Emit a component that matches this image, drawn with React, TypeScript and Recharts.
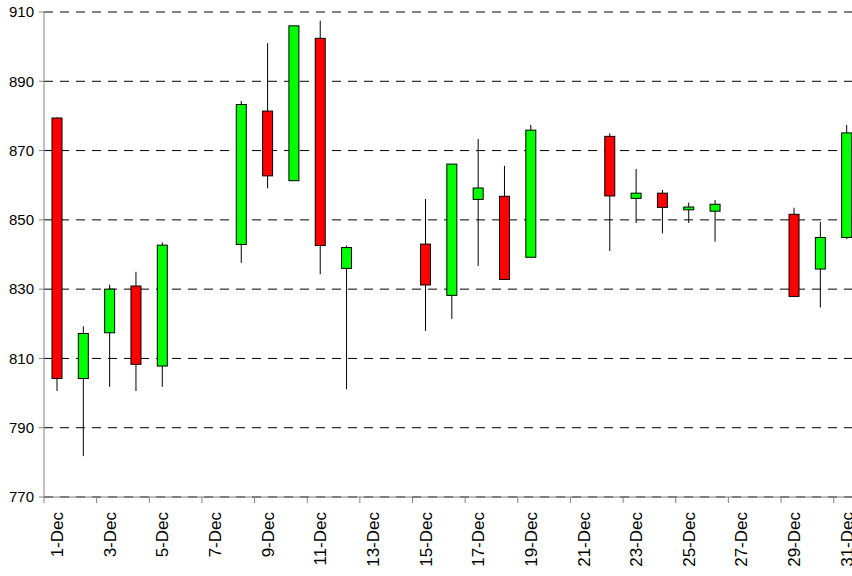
import { ComposedChart, Bar, XAxis, YAxis, CartesianGrid } from "recharts";

const days = [
  "1-Dec", "2-Dec", "3-Dec", "4-Dec", "5-Dec", "6-Dec", "7-Dec", "8-Dec", "9-Dec", "10-Dec",
  "11-Dec", "12-Dec", "13-Dec", "14-Dec", "15-Dec", "16-Dec", "17-Dec", "18-Dec", "19-Dec", "20-Dec",
  "21-Dec", "22-Dec", "23-Dec", "24-Dec", "25-Dec", "26-Dec", "27-Dec", "28-Dec", "29-Dec", "30-Dec",
  "31-Dec",
];

// null = no trading that day
const open = [
  879.4, 804.2, 817.4, 830.9, 807.8, null, null, 842.9, 881.4, 861.3,
  902.4, 836.0, null, null, 843.0, 828.2, 855.9, 856.8, 839.2, null,
  null, 874.1, 856.2, 857.7, 852.9, 852.5, null, null, 851.6, 835.8,
  844.9,
];
const high = [
  879.6, 819.3, 831.3, 835.0, 843.5, null, null, 884.3, 901.0, 906.0,
  907.5, 842.6, null, null, 856.0, 866.1, 873.3, 865.6, 877.4, null,
  null, 875.0, 864.7, 858.6, 855.0, 855.7, null, null, 853.5, 849.4,
  877.4,
];
const low = [
  800.6, 781.8, 801.8, 800.6, 801.8, null, null, 837.6, 859.1, 861.3,
  834.3, 801.1, null, null, 817.9, 821.4, 836.7, 832.8, 839.2, null,
  null, 841.0, 849.1, 846.1, 849.1, 843.7, null, null, 827.9, 824.7,
  844.5,
];
const close = [
  804.2, 817.2, 830.0, 808.3, 842.7, null, null, 883.3, 862.7, 906.0,
  842.6, 842.0, null, null, 831.2, 866.1, 859.2, 832.8, 875.9, null,
  null, 856.9, 857.7, 853.6, 853.7, 854.5, null, null, 827.9, 844.9,
  875.1,
];

const yTicks = [770, 790, 810, 830, 850, 870, 890, 910];

const data = days.map((day, i) => ({
  day,
  open: open[i],
  high: high[i],
  low: low[i],
  close: close[i],
}));

const CHART_W = 860;
const CHART_H = 576;
const Y_AXIS_W = 44;
const BAND = (CHART_W - Y_AXIS_W) / days.length;

function Candle(props: any) {
  const { x, y, width, height, payload } = props;
  if (!payload || payload.open == null) return <g />;
  const top = Math.min(y, y + height);
  const h = Math.abs(height);
  const { open: o, high: hi, low: lo, close: c } = payload;
  const toY = (v: number) => top + ((hi - v) / (hi - lo)) * h;
  const cx = x + width / 2;
  const bodyTop = toY(Math.max(o, c));
  const bodyBot = toY(Math.min(o, c));
  const up = c >= o;
  return (
    <g>
      <line x1={cx} x2={cx} y1={top} y2={top + h} stroke="#000" strokeWidth={1} />
      <rect
        x={x}
        y={bodyTop}
        width={width}
        height={Math.max(bodyBot - bodyTop, 1)}
        fill={up ? "#00FF00" : "#FF0000"}
        stroke="#000"
        strokeWidth={1}
      />
    </g>
  );
}

function DayTick(props: any) {
  const { x, y, payload } = props;
  const edge = x - BAND / 2;
  return (
    <g>
      <line x1={edge} x2={edge} y1={y} y2={y + 6} stroke="#808080" strokeWidth={1} />
      <text
        x={x}
        y={y + 15}
        transform={`rotate(-90 ${x} ${y + 15})`}
        textAnchor="end"
        dy="0.35em"
        fontSize={17}
        fill="#000"
      >
        {payload.value}
      </text>
    </g>
  );
}

export default function App() {
  return (
    <div
      style={{
        position: "absolute",
        left: 0,
        top: 0,
        width: 852,
        height: 576,
        overflow: "hidden",
        background: "#fff",
        fontFamily: "Arial, 'Liberation Sans', sans-serif",
      }}
    >
      <ComposedChart
        width={CHART_W}
        height={CHART_H}
        data={data}
        margin={{ top: 12, right: 0, left: 0, bottom: 0 }}
      >
        <CartesianGrid
          horizontal
          vertical={false}
          stroke="#000"
          strokeDasharray="9 7"
        />
        <XAxis
          dataKey="day"
          interval={1}
          height={79}
          tickLine={false}
          tickSize={0}
          tickMargin={0}
          stroke="#808080"
          tick={<DayTick />}
        />
        <YAxis
          width={Y_AXIS_W}
          domain={[770, 910]}
          ticks={yTicks}
          interval={0}
          stroke="#808080"
          tickSize={5}
          tickMargin={5}
          tick={{ fill: "#000", fontSize: 15 }}
        />
        <Bar
          dataKey={(d: any) => (d.open == null ? null : [d.low, d.high])}
          barSize={10}
          shape={<Candle />}
          isAnimationActive={false}
        />
      </ComposedChart>
    </div>
  );
}
